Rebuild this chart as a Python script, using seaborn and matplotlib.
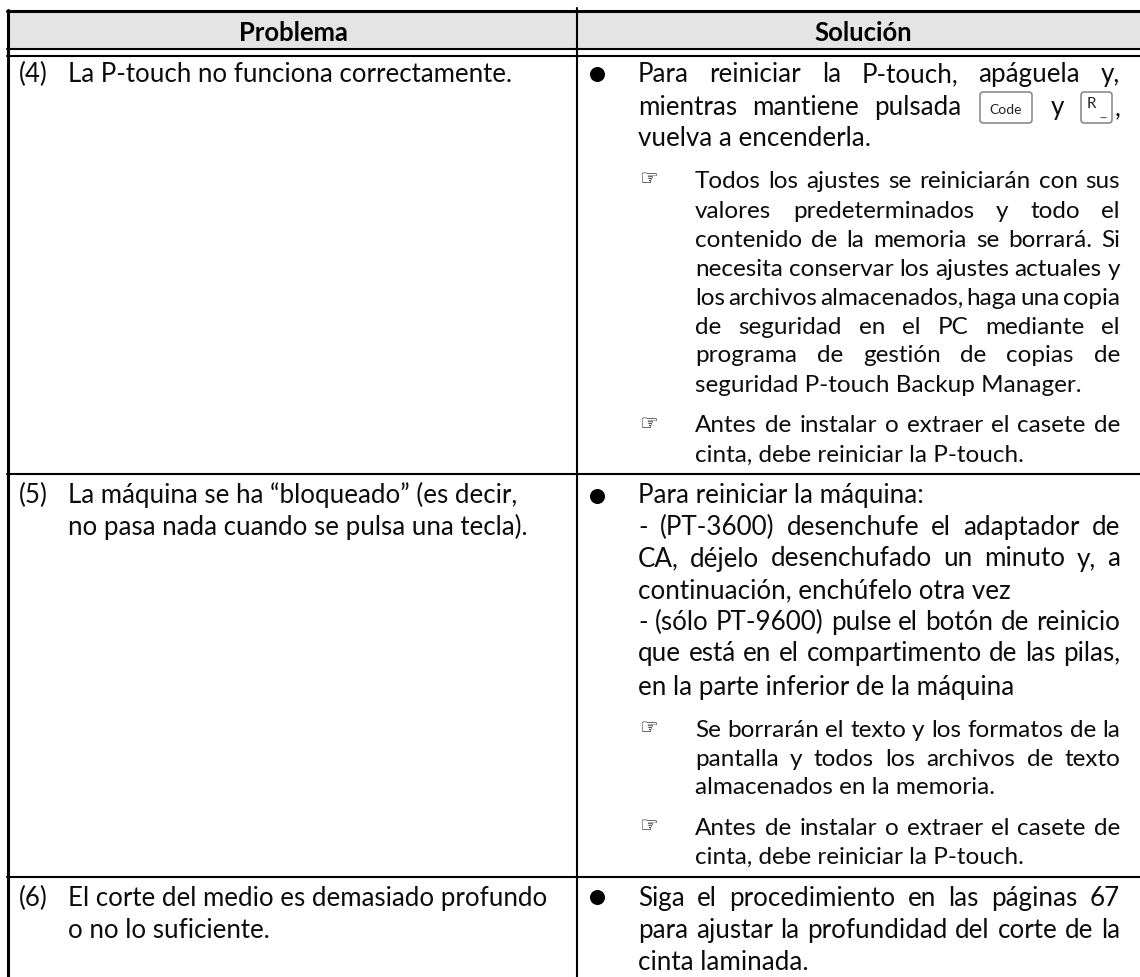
import matplotlib
matplotlib.use("Agg")
import matplotlib.pyplot as plt
from matplotlib.patches import FancyBboxPatch
import seaborn as sns
import pandas as pd

# Table content
headers = ["Problema", "Solución"]
problem_nums = ["(4)", "(5)", "(6)"]
problem_lines = [
    ["La P-touch no funciona correctamente."],
    ["La máquina se ha “bloqueado” (es decir,", "no pasa nada cuando se pulsa una tecla)."],
    ["El corte del medio es demasiado profundo", "o no lo suficiente."],
]
solution_main = [
    (82, "Para reiniciar la P-touch, apáguela y,", True),
    (146, "vuelva a encenderla.", False),
    (503, "Para reiniciar la máquina:", False),
    (535, "- (PT-3600) desenchufe el adaptador de", True),
    (566.5, "CA, déjelo desenchufado un minuto y, a", True),
    (598, "continuación, enchúfelo otra vez", False),
    (630, "- (sólo PT-9600) pulse el botón de reinicio", True),
    (661, "que está en el compartimento de las pilas,", True),
    (695, "en la parte inferior de la máquina", False),
    (906, "Siga el procedimiento en las páginas 67", True),
    (938, "para ajustar la profundidad del corte de la", True),
    (970, "cinta laminada.", False),
]
solution_notes = [
    (188, "Todos los ajustes se reiniciarán con sus", True),
    (217.5, "valores predeterminados y todo el", True),
    (247, "contenido de la memoria se borrará. Si", True),
    (275.5, "necesita conservar los ajustes actuales y", True),
    (305, "los archivos almacenados, haga una copia", True),
    (333.5, "de seguridad en el PC mediante el", True),
    (362.5, "programa de gestión de copias de", True),
    (392.5, "seguridad P-touch Backup Manager.", False),
    (432.5, "Antes de instalar o extraer el casete de", True),
    (461.5, "cinta, debe reiniciar la P-touch.", False),
    (737, "Se borrarán el texto y los formatos de la", True),
    (766, "pantalla y todos los archivos de texto", True),
    (794, "almacenados en la memoria.", False),
    (835, "Antes de instalar o extraer el casete de", True),
    (864, "cinta, debe reiniciar la P-touch.", False),
]
hand_y = [179, 424, 728, 826]
bullet_y = [75, 497, 898]
problem_y = [[82], [503, 535], [906, 938]]

thin_rules = pd.DataFrame({
    "x": [7, 1140, 7, 1140, 7, 1140, 7, 1140, 577, 577],
    "y": [50, 50, 57, 57, 475, 475, 878, 878, 9, 978],
    "rule": ["a", "a", "b", "b", "r1", "r1", "r2", "r2", "d", "d"],
})
thick_rules = pd.DataFrame({
    "x": [7, 1140, 8, 8],
    "y": [11.7, 11.7, 11, 978],
    "rule": ["t", "t", "l", "l"],
})

sns.set_theme(style="white")
plt.rcParams["font.family"] = ["Lato", "DejaVu Sans"]
INK = "#0c0c0c"

fig, ax = plt.subplots(figsize=(11.4, 9.78), dpi=100)
fig.subplots_adjust(0, 0, 1, 1)
ax.set_xlim(0, 1140)
ax.set_ylim(978, 0)
ax.axis("off")

ax.axhspan(12, 50, xmin=7 / 1140, xmax=1, color="#e4e4e4", lw=0, zorder=0)
sns.lineplot(data=thin_rules, x="x", y="y", units="rule", estimator=None, sort=False,
             color="black", lw=1.5, ax=ax, legend=False)
sns.lineplot(data=thick_rules, x="x", y="y", units="rule", estimator=None, sort=False,
             color="black", lw=2.2, ax=ax, legend=False)
sns.scatterplot(x=[597] * len(bullet_y), y=bullet_y, s=117, color="black", linewidth=0, ax=ax)
ax.set_xlabel("")
ax.set_ylabel("")

renderer = fig.canvas.get_renderer()


def text_width(s, fs, weight="normal"):
    t = ax.text(0, 0, s, fontsize=fs, fontweight=weight)
    w = t.get_window_extent(renderer).width
    t.remove()
    return w


# font sizes fitted to widths measured on the original
def fit(s, target, weight="normal"):
    return 20 * target / text_width(s, 20, weight)


FS_LEFT = fit("La P-touch no funciona correctamente.", 445)
FS_MAIN = fit("cinta laminada.", 170)
FS_NOTE = fit("cinta, debe reiniciar la P-touch.", 330)
FS_HEAD = fit("Problema", 109, "bold")


def put_line(x0, x1, y, s, justify, fs):
    if not justify:
        ax.text(x0, y, s, fontsize=fs, color=INK, va="baseline")
        return
    words = s.split(" ")
    widths = [text_width(w, fs) for w in words]
    gap = (x1 - x0 - sum(widths)) / (len(words) - 1)
    x = x0
    for w, wd in zip(words, widths):
        ax.text(x, y, w, fontsize=fs, color=INK, va="baseline")
        x += wd + gap


ax.text(293, 33, headers[0], fontsize=FS_HEAD, fontweight="bold", ha="center", va="center", color="black")
ax.text(863, 33, headers[1], fontsize=FS_HEAD, fontweight="bold", ha="center", va="center", color="black")

for num, ys, lines in zip(problem_nums, problem_y, problem_lines):
    ax.text(19, ys[0], num, fontsize=FS_LEFT, color=INK, va="baseline")
    for y, s in zip(ys, lines):
        ax.text(68, y, s, fontsize=FS_LEFT, color=INK, va="baseline")

for y, s, j in solution_main:
    put_line(638, 1120, y, s, j, FS_MAIN)
for y, s, j in solution_notes:
    put_line(695, 1120, y, s, j, FS_NOTE)
for y in hand_y:
    ax.text(649, y, "☞", fontsize=15, family="DejaVu Sans", fontweight="bold", color="black",
            ha="center", va="center")

# line with the two key caps
put_line(638, 961, 115, "mientras mantiene pulsada", True, FS_MAIN)
for x0, x1 in [(980, 1032), (1081, 1112)]:
    ax.add_patch(FancyBboxPatch((x0, 93), x1 - x0, 31, boxstyle="round,pad=0,rounding_size=3",
                                fc="white", ec="#777777", lw=1))
ax.text(1006, 110, "Code", fontsize=10, ha="center", va="center", color="#222222")
ax.text(1091, 104, "R", fontsize=11, ha="center", va="center", color="#222222")
ax.text(1103, 117, "_", fontsize=11, ha="center", va="baseline", color="#555555")
ax.text(1057, 115, "y", fontsize=FS_MAIN, ha="center", va="baseline", color=INK)
ax.text(1115, 115, ",", fontsize=FS_MAIN, va="baseline", color=INK)

fig.savefig("out.png", dpi=100)
